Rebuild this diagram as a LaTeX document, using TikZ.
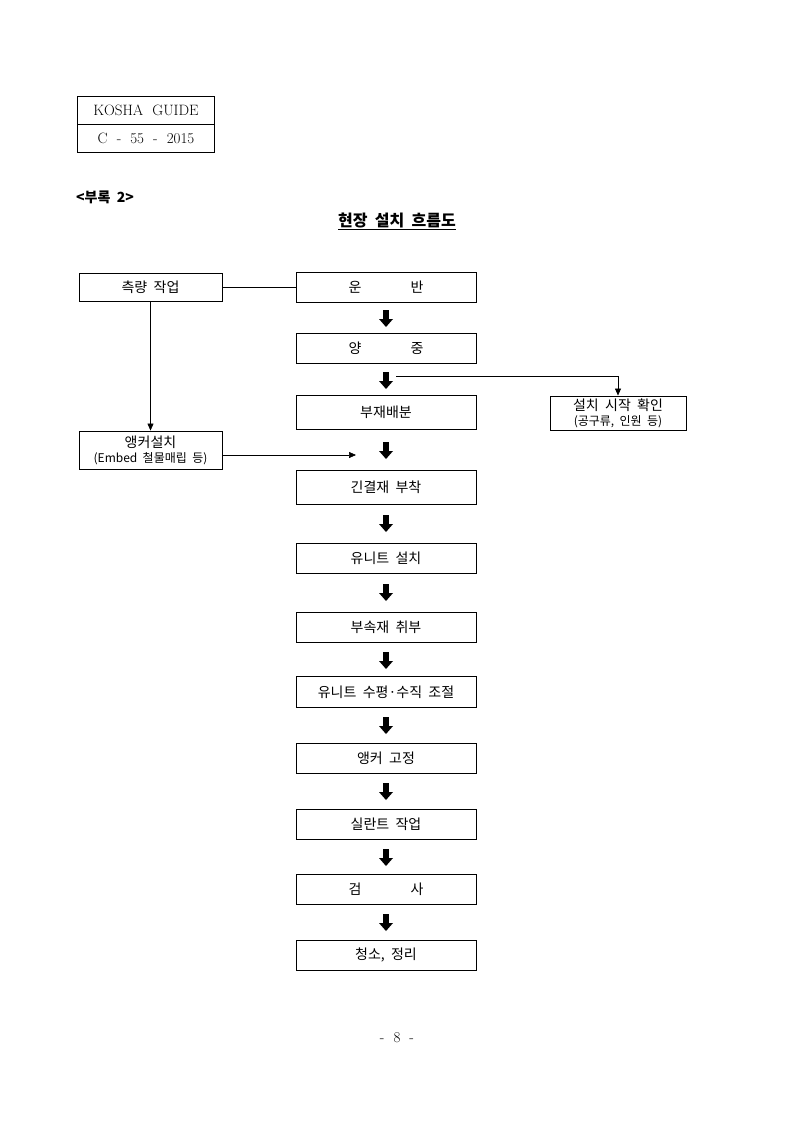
\documentclass[tikz,border=0pt]{standalone}
\usepackage{fontspec}
\newfontfamily\kr{Noto Sans CJK KR}[WordSpace=2]
\usetikzlibrary{arrows.meta}
\newcommand{\bigarr}[2]{\coordinate (#1) at (386,#2);
  \fill ([xshift=-3pt,yshift=9pt]#1) rectangle ([xshift=3pt,yshift=-1pt]#1);
  \fill ([xshift=-7pt]#1) -- ([xshift=7pt]#1) -- ([yshift=-8pt]#1) -- cycle;}
\begin{document}
\begin{tikzpicture}[x=1pt,y=-1pt,
  box/.style={draw,line width=0.9pt,minimum width=180pt,minimum height=30pt,inner sep=0pt,font=\kr\fontsize{14}{16}\selectfont},
  sbox/.style={draw,line width=0.9pt,inner sep=1pt,align=center,font=\kr\fontsize{14}{15}\selectfont},
  thin/.style={line width=0.6pt},
  tip/.style={-{Triangle[length=7pt,width=6pt]}}]
\useasboundingbox (0,0) rectangle (794,1123);
% header
\node[draw,line width=0.9pt,minimum width=137pt,minimum height=28pt,inner sep=0pt,font=\fontsize{15}{17}\selectfont] (h1) at (146,110) {KOSHA\ \ GUIDE};
\node[draw,line width=0.9pt,minimum width=137pt,minimum height=28pt,inner sep=0pt,font=\fontsize{15}{17}\selectfont] (h2) at (146,138) {C \ - \ 55 \ - \ 2015};
\node[anchor=west,inner sep=0pt,font=\kr\bfseries\fontsize{14}{16}\selectfont] (app) at (76,197) {<부록 2>};
\node[inner sep=0pt,font=\kr\bfseries\fontsize{16}{18}\selectfont] (title) at (397,221) {\underline{현장 설치 흐름도}};
% main column
\node[box] (b1) at (386,287) {운\hspace{3.5em}반};
\node[box] (b2) at (386,348) {양\hspace{3.5em}중};
\node[box,minimum height=34pt] (b3) at (386,412) {부재배분};
\node[box,minimum height=34pt] (b4) at (386,487) {긴결재 부착};
\node[box] (b5) at (386,558) {유니트 설치};
\node[box] (b6) at (386,627) {부속재 취부};
\node[box,minimum height=31pt] (b7) at (386,692) {유니트 수평·수직 조절};
\node[box] (b8) at (386,758) {앵커 고정};
\node[box] (b9) at (386,824) {실란트 작업};
\node[box] (b10) at (386,889) {검\hspace{3.5em}사};
\node[box] (b11) at (386,955) {청소, 정리};
% thick arrows
\bigarr{a1}{319}\bigarr{a2}{381}\bigarr{a3}{451}\bigarr{a4}{524}\bigarr{a5}{593}
\bigarr{a6}{661}\bigarr{a7}{726}\bigarr{a8}{792}\bigarr{a9}{858}\bigarr{a10}{923}
% side boxes
\node[box,minimum width=143pt,minimum height=28pt] (s1) at (150.5,287) {측량 작업};
\node[sbox,minimum width=143pt,minimum height=38pt] (s2) at (150.5,450) {앵커설치\\{\fontsize{12}{12}\selectfont (Embed 철물매립 등)}};
\node[sbox,minimum width=136pt,minimum height=34pt] (s3) at (618,413) {설치 시작 확인\\{\fontsize{12}{12}\selectfont (공구류, 인원 등)}};
\coordinate (c1) at (396,376);
\coordinate (c2) at (618,376);
\coordinate (c3) at (356,455);
% connectors
\draw[thin] (s1.east) -- (b1.west);
\draw[thin,tip] (s1.south) -- (s2.north);
\draw[thin,tip] (s2.east |- c3) -- (c3);
\draw[thin,tip] (c1) -- (c2) -- (s3.north);
\node[font=\fontsize{15}{17}\selectfont] (pg) at (397,1038) {- \ 8 \ -};
\end{tikzpicture}
\end{document}
